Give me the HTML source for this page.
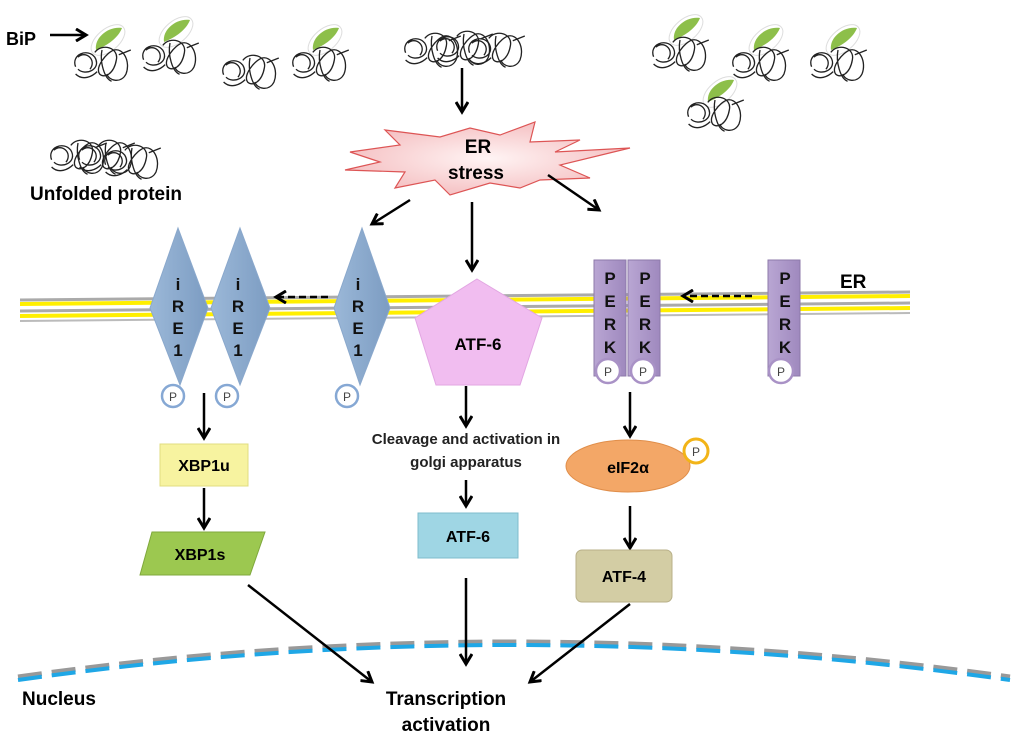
<!DOCTYPE html>
<html><head><meta charset="utf-8"><style>
html,body{margin:0;padding:0;background:#fff;}
svg{display:block;font-family:"Liberation Sans",Arial,sans-serif;}
.b{font-weight:bold;}
</style></head><body>
<svg width="1024" height="745" viewBox="0 0 1024 745" xmlns="http://www.w3.org/2000/svg">
<defs>
<marker id="ah" markerWidth="14" markerHeight="14" refX="11" refY="7" orient="auto" markerUnits="userSpaceOnUse">
<path d="M1,1 L11,7 L1,13" fill="none" stroke="#000" stroke-width="3"/>
</marker>
<g id="tg0" fill="none" stroke="#222" stroke-width="1.1">
<path d="M-22,4 C-26,-6 -12,-12 -6,-4 C0,6 -14,12 -20,6 M-20,-4 C-14,-10 -4,-2 -10,6 M-6,-8 C0,-16 14,-12 12,-2 C10,10 2,14 -2,10 C-6,4 4,-8 10,-10 C18,-12 24,0 20,10 C16,18 6,16 4,10 M0,-10 C-2,0 2,14 8,16 M-22,10 C-16,16 -8,12 -4,8 M14,-6 L24,-10"/>
</g>
<g id="tg"><use href="#tg0" transform="scale(1.2)"/></g>
<g id="bip">
<ellipse cx="0" cy="0" rx="20" ry="11" fill="#fff" stroke="#ddd" stroke-width="1" transform="rotate(-40)"/>
<path d="M-12,10 C-14,-2 0,-14 14,-12 C10,-2 0,5 -12,10 Z" fill="#8dbf4a"/>
</g>
<linearGradient id="ire" x1="0" x2="1"><stop offset="0" stop-color="#9bb8d8"/><stop offset="1" stop-color="#7c9cc2"/></linearGradient>
<linearGradient id="perk" x1="0" x2="1"><stop offset="0" stop-color="#b9a6d3"/><stop offset="1" stop-color="#9f89be"/></linearGradient>
<radialGradient id="star"><stop offset="0" stop-color="#fff4f4"/><stop offset="1" stop-color="#f5c2c4"/></radialGradient>
</defs>

<!-- proteins -->
<use href="#bip" x="108" y="40"/><use href="#tg" x="102" y="62"/>
<use href="#bip" x="176" y="32"/><use href="#tg" x="170" y="55"/>
<use href="#tg" x="250" y="70"/>
<use href="#bip" x="325" y="40"/><use href="#tg" x="320" y="62"/>
<use href="#bip" x="686" y="30"/><use href="#tg" x="680" y="52"/>
<use href="#bip" x="766" y="40"/><use href="#tg" x="760" y="62"/>
<use href="#bip" x="843" y="40"/><use href="#tg" x="838" y="62"/>
<use href="#bip" x="720" y="92"/><use href="#tg" x="715" y="112"/>
<use href="#tg" x="432" y="48"/><use href="#tg" x="464" y="46"/><use href="#tg" x="496" y="48"/>
<use href="#tg" x="78" y="155"/><use href="#tg" x="106" y="155"/><use href="#tg" x="132" y="160"/>

<text x="6" y="45" class="b" font-size="18">BiP</text>
<line x1="50" y1="35" x2="86" y2="35" stroke="#000" stroke-width="2.5" marker-end="url(#ah)"/>
<text x="30" y="200" class="b" font-size="19">Unfolded protein</text>

<!-- ER stress star -->
<polygon points="350,152 400,145 385,130 440,137 470,128 500,135 535,122 530,142 580,140 555,152 630,148 560,165 590,178 540,180 520,188 490,183 450,195 435,180 395,188 405,172 345,170 380,162" fill="url(#star)" stroke="#d55" stroke-width="1.2"/>
<text x="478" y="153" class="b" font-size="19" text-anchor="middle">ER</text>
<text x="476" y="179" class="b" font-size="19" text-anchor="middle">stress</text>
<line x1="462" y1="68" x2="462" y2="112" stroke="#000" stroke-width="2.5" marker-end="url(#ah)"/>
<line x1="410" y1="200" x2="372" y2="224" stroke="#000" stroke-width="2.5" marker-end="url(#ah)"/>
<line x1="472" y1="202" x2="472" y2="270" stroke="#000" stroke-width="2.5" marker-end="url(#ah)"/>
<line x1="548" y1="175" x2="599" y2="210" stroke="#000" stroke-width="2.5" marker-end="url(#ah)"/>

<!-- membrane -->
<g fill="none">
<path d="M20,300 Q500,296 910,292" stroke="#aaa" stroke-width="3"/>
<path d="M20,304 Q500,300 910,296" stroke="#ffef00" stroke-width="4"/>
<path d="M20,311 Q500,307 910,303" stroke="#aaa" stroke-width="3"/>
<path d="M20,316 Q500,312 910,308" stroke="#ffef00" stroke-width="4"/>
<path d="M20,321 Q500,317 910,313" stroke="#bbb" stroke-width="2"/>
</g>
<text x="840" y="288" class="b" font-size="19">ER</text>

<!-- IRE1 -->
<g font-size="17" class="b" text-anchor="middle" fill="#111">
<polygon points="178,228 208,308 180,385 150,308" fill="url(#ire)" stroke="#8aa8cc"/>
<polygon points="240,228 270,308 240,385 211,308" fill="url(#ire)" stroke="#8aa8cc"/>
<polygon points="362,228 390,308 360,385 334,308" fill="url(#ire)" stroke="#8aa8cc"/>
<text x="178" y="290">i</text><text x="178" y="312">R</text><text x="178" y="334">E</text><text x="178" y="356">1</text>
<text x="238" y="290">i</text><text x="238" y="312">R</text><text x="238" y="334">E</text><text x="238" y="356">1</text>
<text x="358" y="290">i</text><text x="358" y="312">R</text><text x="358" y="334">E</text><text x="358" y="356">1</text>
</g>
<g fill="#fff" stroke="#86a8d4" stroke-width="2.5">
<circle cx="173" cy="396" r="11"/><circle cx="227" cy="396" r="11"/><circle cx="347" cy="396" r="11"/>
</g>
<g font-size="12" fill="#444" text-anchor="middle"><text x="173" y="401">P</text><text x="227" y="401">P</text><text x="347" y="401">P</text></g>
<line x1="328" y1="297" x2="276" y2="297" stroke="#000" stroke-width="2.5" stroke-dasharray="7,4" marker-end="url(#ah)"/>

<!-- ATF6 pentagon -->
<polygon points="477,279 542,318 520,385 436,385 415,318" fill="#f1bdf0" stroke="#e2a6e2"/>
<text x="478" y="350" class="b" font-size="17" text-anchor="middle">ATF-6</text>

<!-- PERK -->
<g fill="url(#perk)" stroke="#8d7aaa">
<rect x="594" y="260" width="32" height="116"/><rect x="628" y="260" width="32" height="116"/><rect x="768" y="260" width="32" height="116"/>
</g>
<g font-size="17" class="b" text-anchor="middle" fill="#111">
<text x="610" y="284">P</text><text x="610" y="307">E</text><text x="610" y="330">R</text><text x="610" y="353">K</text>
<text x="645" y="284">P</text><text x="645" y="307">E</text><text x="645" y="330">R</text><text x="645" y="353">K</text>
<text x="785" y="284">P</text><text x="785" y="307">E</text><text x="785" y="330">R</text><text x="785" y="353">K</text>
</g>
<g fill="#fff" stroke="#a992c6" stroke-width="2.5">
<circle cx="608" cy="371" r="12"/><circle cx="643" cy="371" r="12"/><circle cx="781" cy="371" r="12"/>
</g>
<g font-size="12" fill="#444" text-anchor="middle"><text x="608" y="376">P</text><text x="643" y="376">P</text><text x="781" y="376">P</text></g>
<line x1="752" y1="296" x2="683" y2="296" stroke="#000" stroke-width="2.5" stroke-dasharray="7,4" marker-end="url(#ah)"/>

<!-- lower pathway -->
<line x1="204" y1="393" x2="204" y2="438" stroke="#000" stroke-width="2.5" marker-end="url(#ah)"/>
<rect x="160" y="444" width="88" height="42" fill="#f7f3a0" stroke="#e0dc80"/>
<text x="204" y="471" class="b" font-size="16" text-anchor="middle">XBP1u</text>
<line x1="204" y1="488" x2="204" y2="528" stroke="#000" stroke-width="2.5" marker-end="url(#ah)"/>
<polygon points="152,532 265,532 250,575 140,575" fill="#9cc850" stroke="#7fa83c"/>
<text x="200" y="560" class="b" font-size="16" text-anchor="middle">XBP1s</text>

<line x1="466" y1="386" x2="466" y2="426" stroke="#000" stroke-width="2.5" marker-end="url(#ah)"/>
<text x="466" y="444" class="b" font-size="15" text-anchor="middle" fill="#222">Cleavage and activation in</text>
<text x="466" y="467" class="b" font-size="15" text-anchor="middle" fill="#222">golgi apparatus</text>
<line x1="466" y1="480" x2="466" y2="506" stroke="#000" stroke-width="2.5" marker-end="url(#ah)"/>
<rect x="418" y="513" width="100" height="45" fill="#9fd6e4" stroke="#7fbccc"/>
<text x="468" y="542" class="b" font-size="16" text-anchor="middle">ATF-6</text>

<line x1="630" y1="392" x2="630" y2="436" stroke="#000" stroke-width="2.5" marker-end="url(#ah)"/>
<ellipse cx="628" cy="466" rx="62" ry="26" fill="#f3a767" stroke="#e08e4a"/>
<text x="628" y="473" class="b" font-size="16" text-anchor="middle">eIF2α</text>
<circle cx="696" cy="451" r="12" fill="#fff" stroke="#f2b418" stroke-width="3"/>
<text x="696" y="456" font-size="12" fill="#444" text-anchor="middle">P</text>
<line x1="630" y1="506" x2="630" y2="548" stroke="#000" stroke-width="2.5" marker-end="url(#ah)"/>
<rect x="576" y="550" width="96" height="52" rx="6" fill="#d3cda4" stroke="#b8b088"/>
<text x="624" y="582" class="b" font-size="16" text-anchor="middle">ATF-4</text>

<!-- nucleus -->
<path d="M18,680 Q512,610 1010,680" fill="none" stroke="#999" stroke-width="5" stroke-dasharray="24,10" transform="translate(0,-3)"/>
<path d="M18,680 Q512,610 1010,680" fill="none" stroke="#1fa7e6" stroke-width="4" stroke-dasharray="24,10"/>
<line x1="248" y1="585" x2="372" y2="682" stroke="#000" stroke-width="2.5" marker-end="url(#ah)"/>
<line x1="466" y1="578" x2="466" y2="664" stroke="#000" stroke-width="2.5" marker-end="url(#ah)"/>
<line x1="630" y1="604" x2="530" y2="682" stroke="#000" stroke-width="2.5" marker-end="url(#ah)"/>
<text x="22" y="705" class="b" font-size="19">Nucleus</text>
<text x="446" y="705" class="b" font-size="19" text-anchor="middle">Transcription</text>
<text x="446" y="731" class="b" font-size="19" text-anchor="middle">activation</text>
</svg>
</body></html>
